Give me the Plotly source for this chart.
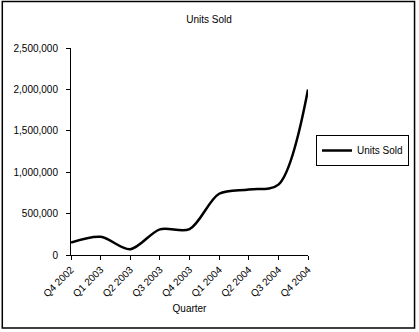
import plotly.graph_objects as go

quarters = ["Q4 2002", "Q1 2003", "Q2 2003", "Q3 2003", "Q4 2003",
            "Q1 2004", "Q2 2004", "Q3 2004", "Q4 2004"]
units_sold = [150000, 220000, 70000, 310000, 312000,
              740000, 792000, 850000, 2000000]
y_ticks = [0, 500000, 1000000, 1500000, 2000000, 2500000]

W, H = 419, 332
L, R, T, B = 71, 309, 48, 255

fig = go.Figure()
fig.add_trace(go.Scatter(
    x=quarters, y=units_sold, mode="lines", name="Units Sold",
    line=dict(color="black", width=2.5, shape="spline", smoothing=0.9),
))

font = dict(family="Arial, Liberation Sans, sans-serif", size=10, color="black")

def px_x(p):
    return (p - L) / (R - L)

def px_y(p):
    return (B - p) / (B - T)

fig.update_layout(
    width=W, height=H,
    margin=dict(l=L, r=W - R, t=T, b=H - B, pad=0),
    paper_bgcolor="white", plot_bgcolor="white",
    font=font,
    title=dict(text="Units Sold", x=(209) / W, xanchor="center",
               y=1 - 19 / H, yanchor="middle", font=dict(size=10)),
    showlegend=True,
    legend=dict(x=px_x(409), xanchor="right", y=px_y(150.5), yanchor="middle",
                bordercolor="black", borderwidth=1, bgcolor="white",
                font=dict(size=10), itemwidth=30,
                tracegroupgap=0),
    xaxis=dict(
        type="category", range=[0, len(quarters) - 1],
        showline=True, linecolor="black", linewidth=1,
        ticks="outside", ticklen=4, tickcolor="black",
        tickangle=-45, showgrid=False, zeroline=False,
        title=dict(text="Quarter", standoff=6, font=dict(size=10)),
        tickfont=dict(size=10),
    ),
    yaxis=dict(
        range=[0, 2500000], tickvals=y_ticks,
        tickformat=",d",
        showline=True, linecolor="black", linewidth=1,
        ticks="outside", ticklen=4, tickcolor="black",
        ticklabelstandoff=6,
        showgrid=False, zeroline=False,
        tickfont=dict(size=10),
    ),
    shapes=[dict(type="rect", xref="paper", yref="paper",
                 x0=px_x(2), x1=px_x(416), y0=px_y(328), y1=px_y(1.5),
                 line=dict(color="black", width=1.5), fillcolor="rgba(0,0,0,0)")],
)

fig.write_html("out.html")
